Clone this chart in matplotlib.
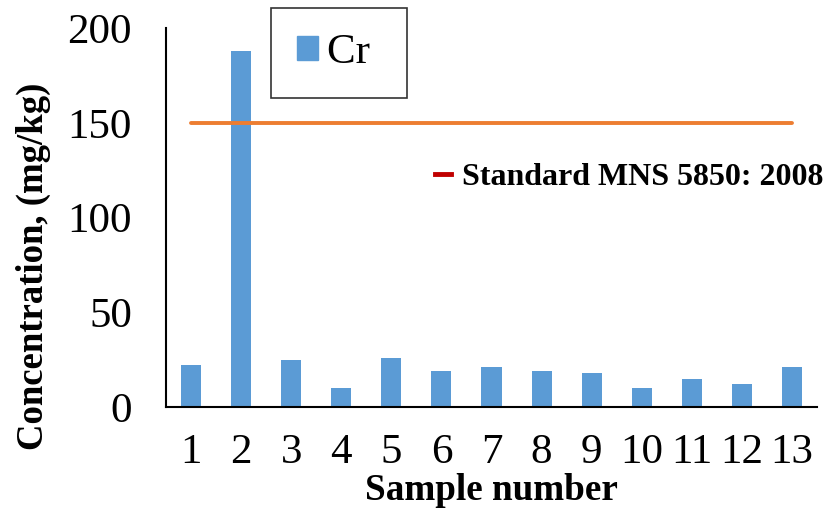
import matplotlib
matplotlib.use("Agg")
import matplotlib.pyplot as plt
from matplotlib.lines import Line2D
from matplotlib.patches import Patch

samples = [str(i) for i in range(1, 14)]
cr_values = [22, 188, 25, 10, 26, 19, 21, 19, 18, 10, 15, 12, 21]
standard_values = [150] * 13
yticks = [0, 50, 100, 150, 200]

serif = "Liberation Serif"
fig = plt.figure(figsize=(8.25, 5.12), dpi=100)
L, R, B, T = 166, 817, 407, 28
W, H = R - L, B - T
ax = fig.add_axes([L/825, 1-B/512, W/825, H/512])

x = list(range(1, 14))
ax.bar(x, cr_values, width=0.4, color="#5B9BD5", zorder=2)
ax.plot(x, standard_values, color="#ED7D31", lw=2.8, solid_capstyle="round", zorder=3)

ax.set_xlim(0.5, 13.5)
ax.set_ylim(0, 200)
ax.set_yticks(yticks)
ax.set_xticks(x)
ax.set_xticklabels(samples)
for s in ["top", "right"]:
    ax.spines[s].set_visible(False)
for s in ["left", "bottom"]:
    ax.spines[s].set_linewidth(1.5)
    ax.spines[s].set_color("black")
ax.tick_params(axis="both", length=0, labelsize=31)
ax.tick_params(axis="x", pad=19)
ax.tick_params(axis="y", pad=24.5)
for lab in ax.get_xticklabels() + ax.get_yticklabels():
    lab.set_fontfamily(serif)

ax.set_ylabel("Concentration, (mg/kg)", fontfamily=serif, fontweight="bold", fontsize=26.5)
ax.yaxis.set_label_coords((51-L)/W, (B-266)/H)
ax.set_xlabel("Sample number", fontfamily=serif, fontweight="bold", fontsize=26.7)
ax.xaxis.set_label_coords((491-L)/W, (B-473)/H)

leg = ax.legend(handles=[Patch(color="#5B9BD5", label="Cr ")],
                loc="upper left", bbox_to_anchor=((271-L)/W, (B-8)/H),
                prop={"family": serif, "size": 31}, frameon=True, fancybox=False,
                edgecolor="black", handlelength=0.5, handleheight=0.5,
                borderpad=0.6, handletextpad=0.2, borderaxespad=0)
leg.get_frame().set_linewidth(1.2)
ax.add_artist(leg)

leg2 = ax.legend(handles=[Line2D([], [], color="#C00000", lw=3.5, label="Standard MNS 5850: 2008")],
                 loc="center left", bbox_to_anchor=((435-L)/W, (B-177)/H),
                 prop={"family": serif, "size": 23, "weight": "bold"}, frameon=False,
                 handlelength=0.5, handletextpad=0.35, borderaxespad=0, borderpad=0)

fig.savefig("out.png", dpi=100)
